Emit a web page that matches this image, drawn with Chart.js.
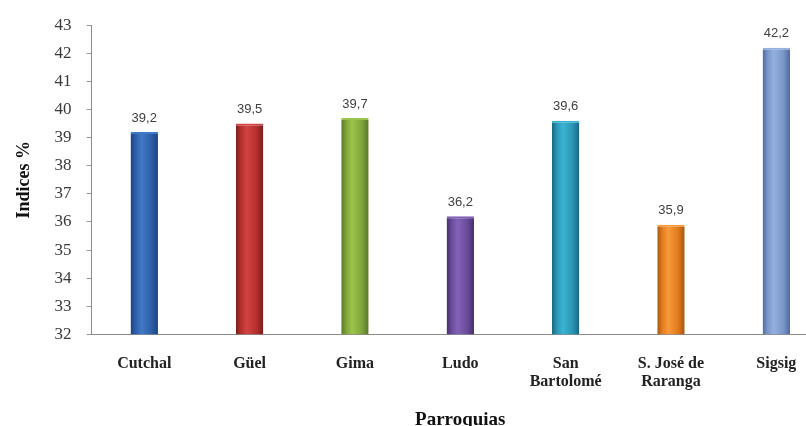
<!DOCTYPE html>
<html>
<head>
<meta charset="utf-8">
<script src="https://cdn.jsdelivr.net/npm/chart.js@4.4.1/dist/chart.umd.min.js"></script>
<style>
  html, body { margin: 0; padding: 0; background: #ffffff; overflow: hidden; }
  #wrap { width: 806px; height: 426px; overflow: hidden; }
  #chart { display: block; }
</style>
</head>
<body>
<div id="wrap"><canvas id="chart" width="829" height="431"></canvas></div>
<script>
// Parroquias and their index values (%)
const parroquias = ['Cutchal', 'Güel', 'Gima', 'Ludo', ['San', 'Bartolomé'], ['S. José de', 'Raranga'], 'Sigsig'];
const indices = [39.2, 39.5, 39.7, 36.2, 39.6, 35.9, 42.2];
const yTicks = [32, 33, 34, 35, 36, 37, 38, 39, 40, 41, 42, 43];

// Per-bar shading: [dark edge, light, base]
const shades = [
  ['#1d4380', '#4079c6', '#2d5fa9'],
  ['#7a1d1c', '#d24341', '#b3302e'],
  ['#58772a', '#9cc44c', '#7fa53b'],
  ['#46306c', '#8262b6', '#6a4b9b'],
  ['#1a6680', '#3cb3d4', '#2a96b4'],
  ['#a4560f', '#f79a3c', '#e47b1d'],
  ['#5268a0', '#94b0de', '#7a97ca']
];

const BAR_PCT = 0.26;

function barFill(c) {
  const chart = c.chart;
  const s = shades[c.dataIndex];
  const xs = chart.scales.x;
  if (!xs || !chart.chartArea) return s[2];
  const cx = xs.getPixelForValue(c.dataIndex);
  const w = (xs.width / parroquias.length) * BAR_PCT;
  const g = chart.ctx.createLinearGradient(cx - w / 2, 0, cx + w / 2, 0);
  g.addColorStop(0, s[0]);
  g.addColorStop(0.18, s[2]);
  g.addColorStop(0.4, s[1]);
  g.addColorStop(0.75, s[2]);
  g.addColorStop(1, s[0]);
  return g;
}

// Value labels above each bar, decimal comma
const valueLabels = {
  id: 'valueLabels',
  afterDatasetsDraw(chart) {
    const ctx = chart.ctx;
    const meta = chart.getDatasetMeta(0);
    ctx.save();
    ctx.font = '13px "Liberation Sans", Arial, sans-serif';
    ctx.fillStyle = '#404040';
    ctx.textAlign = 'center';
    ctx.textBaseline = 'middle';
    meta.data.forEach((bar, i) => {
      ctx.fillText(indices[i].toFixed(1).replace('.', ','), bar.x, bar.y - 14);
    });
    ctx.restore();
  }
};

new Chart(document.getElementById('chart'), {
  type: 'bar',
  data: {
    labels: parroquias,
    datasets: [{
      data: indices,
      backgroundColor: barFill,
      borderColor: (c) => shades[c.dataIndex][1],
      borderWidth: { top: 2, left: 0, right: 0, bottom: 0 },
      borderSkipped: false,
      barPercentage: BAR_PCT,
      categoryPercentage: 1
    }]
  },
  options: {
    responsive: false,
    animation: false,
    events: [],
    layout: { padding: { left: 14, right: 0, top: 22, bottom: 0 } },
    plugins: { legend: { display: false }, tooltip: { enabled: false } },
    scales: {
      x: {
        grid: { display: false },
        border: { display: true, color: '#8c8c8c', width: 1 },
        ticks: {
          color: '#222222',
          padding: 13,
          maxRotation: 0,
          autoSkip: false,
          font: { family: '"Liberation Serif", "Times New Roman", serif', size: 16, weight: 'bold', lineHeight: 1.12 }
        },
        title: {
          display: true,
          text: 'Parroquias',
          color: '#111111',
          padding: { top: 4, bottom: 0 },
          font: { family: '"Liberation Serif", "Times New Roman", serif', size: 19, weight: 'bold' }
        }
      },
      y: {
        min: 32,
        max: 43,
        afterBuildTicks(scale) { scale.ticks = yTicks.map(v => ({ value: v })); },
        grid: { drawOnChartArea: false, drawTicks: true, tickLength: 5, color: '#9a9a9a' },
        border: { display: true, color: '#8c8c8c', width: 1 },
        ticks: {
          color: '#3a3a3a',
          padding: 15,
          font: { family: '"Liberation Serif", "Times New Roman", serif', size: 17 }
        },
        title: {
          display: true,
          text: 'Indices %',
          color: '#111111',
          padding: { top: 0, bottom: 4 },
          font: { family: '"Liberation Serif", "Times New Roman", serif', size: 18, weight: 'bold' }
        }
      }
    }
  },
  plugins: [valueLabels]
});
</script>
</body>
</html>
